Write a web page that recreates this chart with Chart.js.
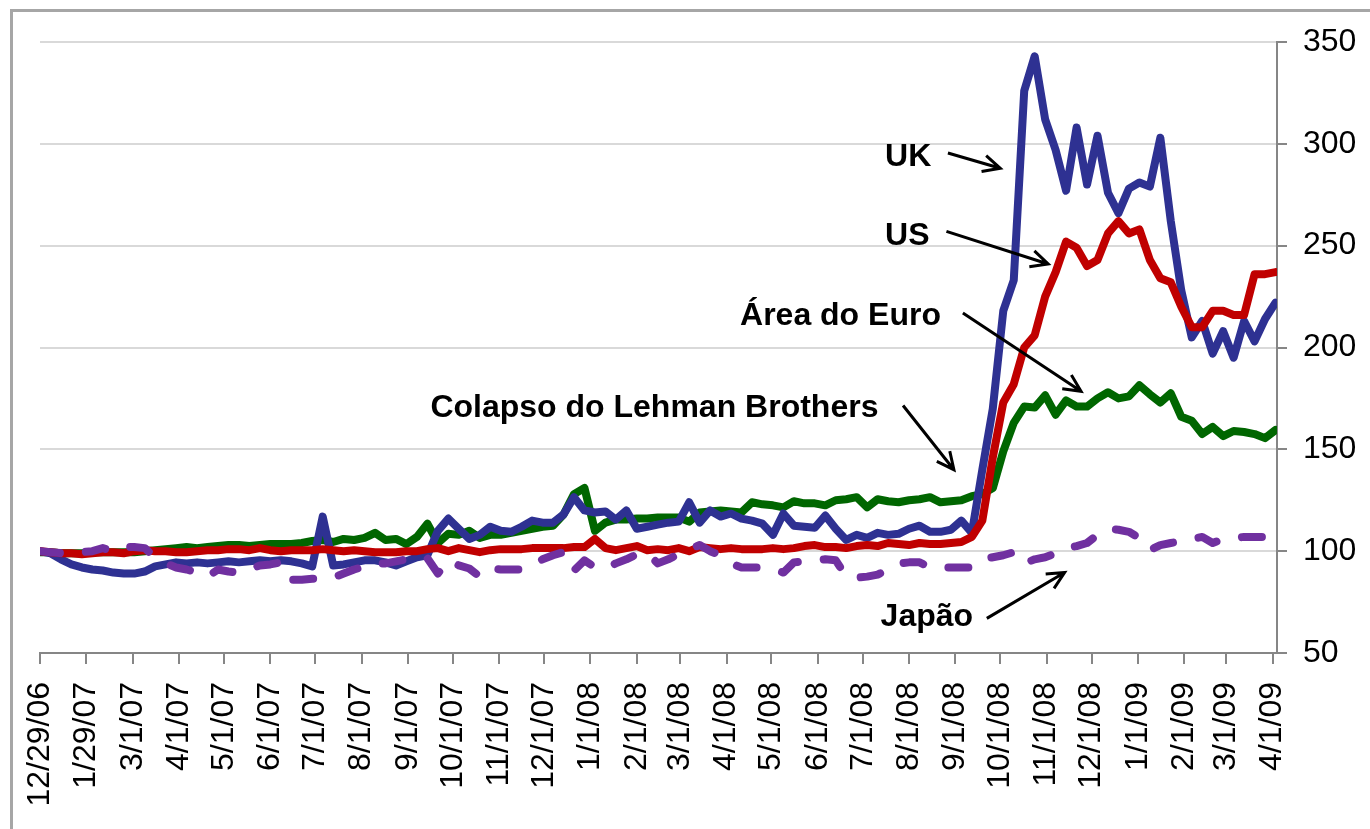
<!DOCTYPE html>
<html lang="pt">
<head>
    <meta charset="UTF-8" />
    <title>CDS - Colapso do Lehman Brothers</title>
    <script src="https://cdn.jsdelivr.net/npm/chart.js"></script>
    <style>
        html, body { margin: 0; padding: 0; background: #fff; }
        #chart { display: block; }
    </style>
</head>
<body>
    <canvas id="chart" width="1370" height="829"></canvas>

    <script>
        // Weekly observations (Fridays), first one on 12/29/06
        const startLabel = '12/29/06';
        const daysPerStep = 7;

        // Month tick labels on the date axis
        const tickLabels = ['12/29/06', '1/29/07', '3/1/07', '4/1/07', '5/1/07', '6/1/07', '7/1/07',
            '8/1/07', '9/1/07', '10/1/07', '11/1/07', '12/1/07', '1/1/08', '2/1/08', '3/1/08',
            '4/1/08', '5/1/08', '6/1/08', '7/1/08', '8/1/08', '9/1/08', '10/1/08', '11/1/08',
            '12/1/08', '1/1/09', '2/1/09', '3/1/09', '4/1/09'];

        const yTicks = [50, 100, 150, 200, 250, 300, 350];

        const ukValues = [100, 99, 96, 93.5, 92, 91, 90.5, 89.5, 89, 89, 90, 92.5, 93.5, 94.5, 94, 94.5, 94,
            94.5, 95, 94.5, 95, 95.5, 95, 95.5, 95, 94, 92.5, 117, 93, 93.5, 94.5, 95.5, 95.5, 94.5, 93, 95,
            97, 98, 110, 116, 111, 106, 108, 112, 110, 109.5, 112, 115, 114, 114, 118, 126.5, 120, 119, 119.5,
            115.5, 120, 111, 112, 113, 114, 114.5, 124, 114, 120, 117, 118.5, 116, 115, 113.5, 108, 118.5,
            112.5, 112, 111.5, 117.5, 111, 105.5, 108, 106.5, 109, 108, 108.5, 111, 112.5, 109.5, 109.5,
            110.5, 115, 109, 140, 170, 218, 233, 326, 343, 312, 297, 277, 308, 280, 304, 276, 266, 278, 281,
            279, 303, 262, 228, 205, 213, 197, 208, 195, 213, 203, 214, 222];

        const usValues = [100, 99.5, 99, 99, 98.5, 99, 99.5, 99.5, 99, 100, 100.5, 100, 100, 99.5, 99.5, 100,
            100.5, 100.5, 101, 101, 100.5, 101.5, 100.5, 100, 100.5, 100.5, 100.5, 101, 100.5, 100, 100.5,
            100, 99.5, 99.5, 99.5, 100, 100, 101, 101.5, 100, 101.5, 100.5, 99.5, 100.5, 101, 101, 101, 101.5,
            101.5, 101.5, 101.5, 102, 102, 106, 101.5, 100.5, 101.5, 102.5, 100.5, 101, 100.5, 101.5, 100,
            102, 101.5, 101, 101.5, 101, 101, 101, 101.5, 101, 101.5, 102.5, 103, 102, 102, 101.5, 102.5, 103,
            102.5, 104, 103.5, 103, 104, 103.5, 103.5, 104, 104.5, 107, 115, 146, 173, 182, 200, 206, 225,
            237, 252, 249, 240, 243, 256, 262, 256, 258, 243, 234, 232, 220, 210, 210, 218, 218, 216, 216,
            236, 236, 237];

        const euroValues = [99.5, 99.5, 99, 99, 99, 99.5, 99.5, 99.5, 99.5, 99.5, 100, 100.5, 101, 101.5, 102,
            101.5, 102, 102.5, 103, 103, 102.5, 103, 103.5, 103.5, 103.5, 104, 105, 105.5, 104.5, 106, 105.5,
            106.5, 109, 105.5, 106, 103.5, 107, 113.5, 104, 108.5, 108, 110, 106.5, 108, 108, 109, 110, 111,
            112, 112.5, 118, 128, 131, 110, 114, 115.5, 115.5, 116, 116, 116.5, 116.5, 116.5, 114.5, 119,
            119.5, 120, 119.5, 119, 124, 123, 122.5, 121.5, 124.5, 123.5, 123.5, 122.5, 125, 125.5, 126.5,
            121.5, 125.5, 124.5, 124, 125, 125.5, 126.5, 124, 124.5, 125, 127, 128, 131, 149, 163, 171,
            170.5, 176.5, 167, 174, 171, 171, 175, 178, 175, 176, 181.5, 177, 173, 177.5, 166, 164, 157.5,
            161, 156.5, 159, 158.5, 157.5, 155.5, 159.5];

        const japanValues = [100, 99.5, 99, 99, 99.5, 100, 101.5, 100, 102, 102, 101.5, 97, 94, 92, 91, 89.5,
            87.5, 91, 90, 89.5, 91, 93, 93.5, 94.5, 86, 86, 86.5, 86.5, 87, 89, 91, 92.5, 94, 94, 95, 96, 97,
            96.5, 89, 95.5, 93, 91.5, 87.5, 91.5, 91, 91, 91, 93, 96, 98, 99.5, 90.5, 95.5, 92, 91.5, 94, 96,
            98.5, 99, 94, 96, 98.5, 101, 103, 100, 98, 94, 92, 92, 92, 91, 89.5, 94.5, 95, 95.5, 96, 95.5,
            87.5, 87, 87.5, 88.5, 91, 94, 94.5, 94.5, 92, 92, 92, 92, 92, 96, 97, 98, 99.5, 94, 96, 97, 99,
            101.5, 102.5, 104, 108, 111, 110.5, 109.5, 106.5, 100.5, 103, 104, 105, 106, 107, 104, 106,
            106.5, 107, 107, 107, 107.5];

        // Callout texts and arrows, in data units: [days since 12/29/06, index value]
        const notes = [
            { text: 'UK', at: [565, 293.5], from: [607, 295.5], to: [642, 288] },
            { text: 'US', at: [565, 254.5], from: [606, 257], to: [674, 241] },
            { text: 'Área do Euro', at: [468, 215.5], from: [617, 217], to: [696, 178.5] },
            { text: 'Colapso do Lehman Brothers', at: [261, 170], from: [577, 171.5], to: [611, 140] },
            { text: 'Japão', at: [562, 67.5], from: [633, 67], to: [685, 89.5] }
        ];

        function dayOf(label) {
            const [m, d, y] = label.split('/').map(Number);
            const [m0, d0, y0] = startLabel.split('/').map(Number);
            return (Date.UTC(2000 + y, m - 1, d) - Date.UTC(2000 + y0, m0 - 1, d0)) / 86400000;
        }

        function toPoints(values) {
            return values.map((v, i) => ({ x: i * daysPerStep, y: v }));
        }

        const FONT = '"Liberation Sans", Arial, sans-serif';
        Chart.defaults.font.family = FONT;
        Chart.defaults.color = '#000';

        const frameAndNotes = {
            id: 'frameAndNotes',
            beforeDraw(chart) {
                const ctx = chart.ctx;
                ctx.save();
                ctx.fillStyle = '#fff';
                ctx.fillRect(0, 0, chart.width, chart.height);
                ctx.strokeStyle = '#a6a6a6';
                ctx.lineWidth = 3;
                ctx.strokeRect(11.5, 10.5, chart.width + 20, chart.height + 20);
                ctx.restore();
            },
            afterDatasetsDraw(chart) {
                const ctx = chart.ctx;
                const xs = chart.scales.x, ys = chart.scales.y;
                const px = p => [xs.getPixelForValue(p[0]), ys.getPixelForValue(p[1])];
                ctx.save();
                ctx.fillStyle = '#000';
                ctx.strokeStyle = '#000';
                ctx.font = 'bold 32px ' + FONT;
                ctx.textAlign = 'left';
                ctx.textBaseline = 'middle';
                ctx.lineWidth = 3;
                ctx.lineCap = 'butt';
                notes.forEach(n => {
                    const [tx, ty] = px(n.at);
                    ctx.fillText(n.text, tx, ty);
                    const [x1, y1] = px(n.from);
                    const [x2, y2] = px(n.to);
                    ctx.beginPath();
                    ctx.moveTo(x1, y1);
                    ctx.lineTo(x2, y2);
                    const ang = Math.atan2(y2 - y1, x2 - x1);
                    const len = 19, spread = 0.45;
                    ctx.moveTo(x2 - len * Math.cos(ang - spread), y2 - len * Math.sin(ang - spread));
                    ctx.lineTo(x2, y2);
                    ctx.lineTo(x2 - len * Math.cos(ang + spread), y2 - len * Math.sin(ang + spread));
                    ctx.stroke();
                });
                ctx.restore();
            }
        };

        const lineStyle = {
            borderWidth: 8,
            pointRadius: 0,
            tension: 0,
            fill: false,
            borderJoinStyle: 'round',
            borderCapStyle: 'round'
        };

        // first dataset is drawn on top
        new Chart(document.getElementById('chart'), {
            type: 'line',
            data: {
                datasets: [
                    Object.assign({ label: 'Japão', data: toPoints(japanValues), borderColor: '#7030a0', borderDash: [20, 26] }, lineStyle),
                    Object.assign({ label: 'US', data: toPoints(usValues), borderColor: '#c00000' }, lineStyle),
                    Object.assign({ label: 'UK', data: toPoints(ukValues), borderColor: '#2e3192' }, lineStyle),
                    Object.assign({ label: 'Área do Euro', data: toPoints(euroValues), borderColor: '#006600' }, lineStyle)
                ]
            },
            options: {
                responsive: false,
                animation: false,
                devicePixelRatio: 1,
                layout: { padding: { left: 40, top: 42, right: 0, bottom: 0 } },
                plugins: {
                    legend: { display: false },
                    tooltip: { enabled: false }
                },
                scales: {
                    x: {
                        type: 'linear',
                        min: 0,
                        max: 827,
                        afterBuildTicks: scale => {
                            scale.ticks = tickLabels.map(l => ({ value: dayOf(l) }));
                        },
                        afterFit: scale => { scale.height = 176; },
                        ticks: {
                            autoSkip: false,
                            minRotation: 90,
                            maxRotation: 90,
                            padding: 18,
                            font: { size: 32 },
                            color: '#000',
                            callback: (value, index) => tickLabels[index]
                        },
                        grid: {
                            drawOnChartArea: false,
                            drawTicks: true,
                            tickLength: 11,
                            tickColor: '#868686',
                            lineWidth: 2
                        },
                        border: { display: true, color: '#868686', width: 2 }
                    },
                    y: {
                        position: 'right',
                        min: 50,
                        max: 350,
                        afterBuildTicks: scale => {
                            scale.ticks = yTicks.map(v => ({ value: v }));
                        },
                        afterFit: scale => { scale.width = 93; },
                        ticks: {
                            padding: 16,
                            font: { size: 32 },
                            color: '#000'
                        },
                        grid: {
                            color: '#d9d9d9',
                            lineWidth: 2,
                            tickLength: 10,
                            tickColor: '#868686'
                        },
                        border: { display: true, color: '#868686', width: 2 }
                    }
                }
            },
            plugins: [frameAndNotes]
        });
    </script>
</body>
</html>
